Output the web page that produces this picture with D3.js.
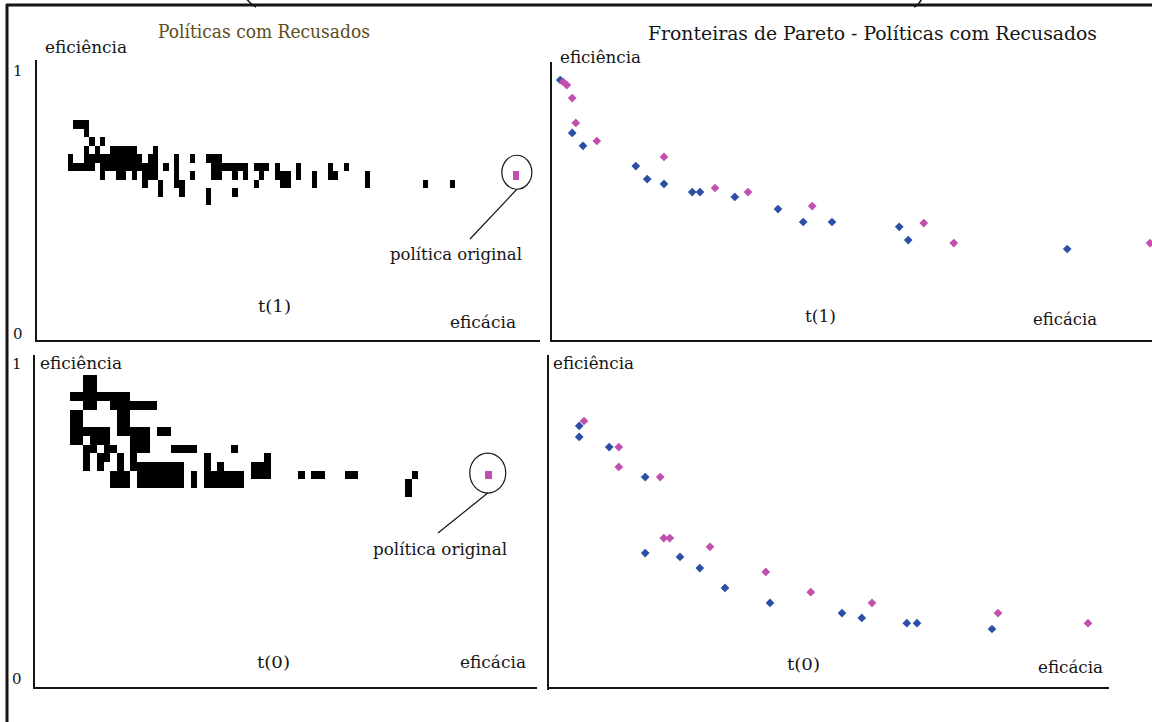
<!DOCTYPE html>
<html>
<head>
<meta charset="utf-8">
<script src="https://cdn.jsdelivr.net/npm/d3@7"></script>
<style>
  body { margin: 0; background: #fff; }
  svg { display: block; }
  text { font-family: "DejaVu Serif", "Liberation Serif", serif; fill: #151515; }
</style>
</head>
<body>
<script>
// ---- data ----
// left panels: binned policies, each row = runs of filled eficácia bins [from, to]
const rowsT1 = [
  [[1, 3]],
  [[3, 3]],
  [[4, 4], [6, 6]],
  [[3, 3], [5, 5], [8, 12], [16, 16]],
  [[0, 0], [3, 13], [15, 16], [20, 20], [23, 23], [26, 28]],
  [[0, 4], [6, 16], [18, 18], [20, 20], [27, 33], [35, 37], [39, 39], [43, 43], [49, 49], [52, 52]],
  [[6, 6], [9, 10], [12, 12], [14, 16], [20, 20], [23, 23], [27, 28], [31, 31], [33, 33], [36, 36], [39, 41], [43, 43], [46, 46], [49, 50], [56, 56]],
  [[14, 14], [17, 17], [20, 21], [35, 35], [40, 41], [46, 46], [56, 56], [67, 67], [72, 72]],
  [[17, 17], [21, 21], [26, 26], [31, 31]],
  [[26, 26]]
];
const rowsT0 = [
  [[2, 3]],
  [[2, 3]],
  [[0, 8]],
  [[2, 3], [6, 12]],
  [[0, 1], [7, 8]],
  [[0, 1], [7, 8]],
  [[0, 5], [7, 11], [13, 14]],
  [[0, 1], [3, 5], [9, 11]],
  [[2, 3], [5, 6], [9, 11], [15, 18], [24, 24]],
  [[2, 2], [4, 5], [7, 7], [9, 9], [20, 20], [29, 29]],
  [[2, 2], [4, 4], [7, 7], [9, 9], [10, 16], [20, 20], [22, 22], [27, 29]],
  [[6, 8], [10, 16], [18, 18], [20, 25], [27, 29], [34, 34], [36, 37], [41, 42], [51, 51]],
  [[6, 8], [10, 16], [18, 18], [20, 25], [50, 50]],
  [[50, 50]]
];
const origT1 = [84, 6];   // bin of the original policy [eficácia, row]
const origT0 = [62, 11];

// right panels: Pareto fronts [eficácia, eficiência]
const blueT1 = [[0.017, 0.963], [0.037, 0.767], [0.055, 0.719], [0.143, 0.644], [0.162, 0.596], [0.19, 0.578],
  [0.237, 0.548], [0.25, 0.548], [0.308, 0.53], [0.38, 0.485], [0.422, 0.437], [0.47, 0.437],
  [0.582, 0.419], [0.597, 0.37], [0.862, 0.337]];
const pinkT1 = [[0.022, 0.956], [0.028, 0.944], [0.037, 0.896], [0.043, 0.804], [0.078, 0.737], [0.19, 0.678],
  [0.275, 0.563], [0.33, 0.548], [0.437, 0.496], [0.623, 0.433], [0.673, 0.359], [1.0, 0.359]];
const blueT0 = [[0.052, 0.804], [0.052, 0.77], [0.102, 0.739], [0.162, 0.647], [0.162, 0.414], [0.22, 0.402],
  [0.253, 0.368], [0.295, 0.307], [0.37, 0.261], [0.49, 0.23], [0.523, 0.215], [0.598, 0.199],
  [0.615, 0.199], [0.74, 0.181]];
const pinkT0 = [[0.06, 0.819], [0.118, 0.739], [0.118, 0.678], [0.187, 0.647], [0.193, 0.46], [0.203, 0.46],
  [0.27, 0.433], [0.363, 0.356], [0.438, 0.294], [0.54, 0.261], [0.75, 0.23], [0.9, 0.199]];

const yTicks = ["0", "1"];

// ---- drawing ----
const svg = d3.select("body").append("svg").attr("width", 1152).attr("height", 722);

function line(x1, y1, x2, y2, w) {
  svg.append("line").attr("x1", x1).attr("y1", y1).attr("x2", x2).attr("y2", y2)
    .attr("stroke", "#151515").attr("stroke-width", w || 2);
}
function label(txt, x, y, len, size, color) {
  const t = svg.append("text").attr("x", x).attr("y", y)
    .attr("font-size", size || 16).text(txt);
  if (len) t.attr("textLength", len).attr("lengthAdjust", "spacingAndGlyphs");
  if (color) t.style("fill", color);
  return t;
}

// outer frame and clipped brackets of the caption above
line(7, 4, 7, 722, 3);
line(6, 5, 1152, 5, 3);
svg.append("path").attr("d", "M246,-2 Q250,4 256,7").attr("fill", "none").attr("stroke", "#151515").attr("stroke-width", 1.5);
svg.append("path").attr("d", "M922,-2 Q920,4 914,7").attr("fill", "none").attr("stroke", "#151515").attr("stroke-width", 1.5);

// axes lines
line(36, 60, 36, 342); line(36, 341, 540, 341);
line(551, 62, 551, 342); line(551, 341, 1152, 341);
line(34, 355, 34, 689); line(34, 688, 537, 688);
line(548, 355, 548, 690); line(548, 688, 1109, 688);

// y tick labels (0 / 1)
label(yTicks[1], 13, 76, null, 15);
label(yTicks[0], 13, 339, null, 15);
label(yTicks[1], 12, 369, null, 15);
label(yTicks[0], 12, 684, null, 15);

function drawGrid(rows, cols, rowsRange, colsRange, orig, circ) {
  const x = d3.scaleLinear().domain([0, cols]).range(colsRange);
  const y = d3.scaleLinear().domain([0, rows.length]).range(rowsRange);
  const cells = rows.flatMap((runs, r) => runs.map(([a, b]) => ({ r, a, b })));
  const g = svg.append("g").attr("shape-rendering", "crispEdges");
  g.selectAll("rect").data(cells).join("rect")
    .attr("x", d => x(d.a)).attr("width", d => x(d.b + 1) - x(d.a))
    .attr("y", d => y(d.r)).attr("height", y(1) - y(0))
    .attr("fill", "#000");
  g.append("rect")
    .attr("x", x(orig[0])).attr("width", x(1) - x(0))
    .attr("y", y(orig[1])).attr("height", y(1) - y(0))
    .attr("fill", "#c24fae");
  const cx = x(orig[0] + 0.5), cy = y(orig[1] + 0.5);
  svg.append("ellipse").attr("cx", cx + circ.dx).attr("cy", cy + circ.dy)
    .attr("rx", circ.rx).attr("ry", circ.ry)
    .attr("fill", "none").attr("stroke", "#151515").attr("stroke-width", 1.2);
  line(cx + circ.dx, cy + circ.dy + circ.ry, circ.lx, circ.ly, 1.2);
}

drawGrid(rowsT1, 74, [120, 205], [68, 460.2], origT1, { dx: 1, dy: -3, rx: 15, ry: 17, lx: 470, ly: 239 });
drawGrid(rowsT0, 53, [375, 496.8], [70, 425.1], origT0, { dx: -1, dy: -2, rx: 18, ry: 20, lx: 438, ly: 533 });

function drawPareto(blue, pink, xr, yr) {
  const x = d3.scaleLinear().domain([0, 1]).range(xr);
  const y = d3.scaleLinear().domain([0, 1]).range(yr);
  const sym = d3.symbol().type(d3.symbolSquare).size(38);
  const g = svg.append("g");
  [[blue, "#2c4fa6"], [pink, "#c24fae"]].forEach(([data, col]) => {
    g.append("g").selectAll("path").data(data).join("path")
      .attr("d", sym)
      .attr("transform", d => `translate(${x(d[0])},${y(d[1])}) rotate(45)`)
      .attr("fill", col);
  });
}
drawPareto(blueT1, pinkT1, [550, 1150], [340, 70]);
drawPareto(blueT0, pinkT0, [548, 1148], [688, 362]);

// titles and labels
label("Políticas com Recusados", 158, 38, 212, 18, "#5e4c1c");
label("Fronteiras de Pareto - Políticas com Recusados", 648, 40, 449, 18);
label("eficiência", 45, 53, 82);
label("eficiência", 560, 63, 81);
label("eficiência", 40, 369, 82);
label("eficiência", 553, 369, 81);
label("t(1)", 258, 312, 33);
label("t(1)", 805, 322, 31);
label("t(0)", 257, 668, 33);
label("t(0)", 787, 670, 33);
label("eficácia", 450, 328, 66);
label("eficácia", 1033, 325, 64);
label("eficácia", 460, 668, 66);
label("eficácia", 1038, 673, 65);
label("política original", 390, 260, 132);
label("política original", 373, 555, 134);
</script>
</body>
</html>
